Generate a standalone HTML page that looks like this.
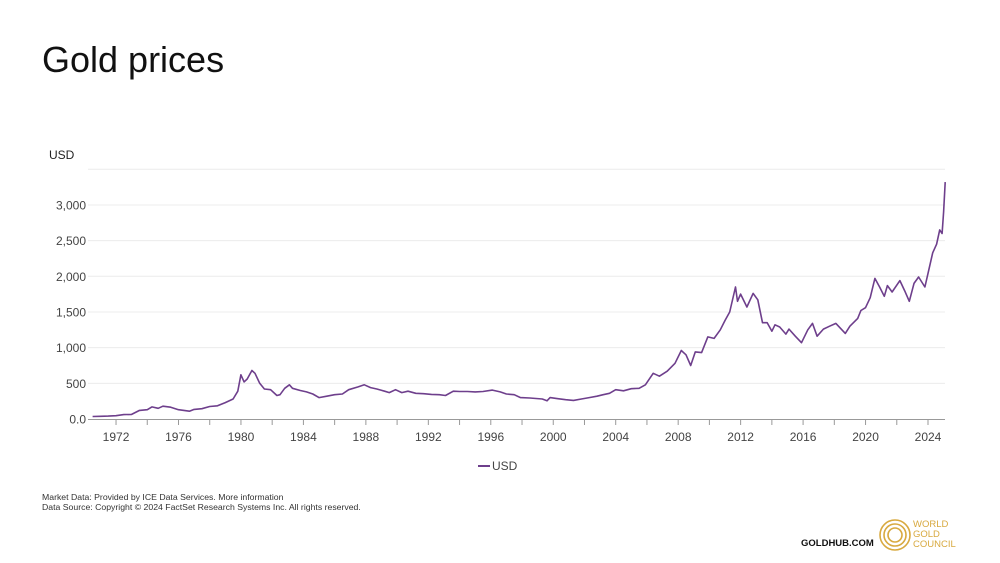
<!DOCTYPE html>
<html><head><meta charset="utf-8">
<style>
body{margin:0;background:#fff;font-family:"Liberation Sans",sans-serif;}
#wrap{position:relative;width:1000px;height:563px;overflow:hidden;}
</style></head>
<body><div id="wrap">
<div style="position:absolute;left:42px;top:39px;font-size:36px;color:#111;">Gold prices</div>
<svg id="chart" width="1000" height="563" style="position:absolute;left:0;top:0"></svg>
<div style="position:absolute;left:42px;top:492px;font-size:8.7px;color:#333;line-height:10px;">Market Data: Provided by ICE Data Services. More information<br>Data Source: Copyright © 2024 FactSet Research Systems Inc. All rights reserved.</div>
<div style="position:absolute;left:801px;top:538px;font-size:9.5px;font-weight:bold;color:#111;">GOLDHUB.COM</div>
<svg width="40" height="40" style="position:absolute;left:878px;top:518px">
<circle cx="17" cy="17" r="15" fill="none" stroke="#d8a93f" stroke-width="1.6"/>
<circle cx="17" cy="17" r="11" fill="none" stroke="#d8a93f" stroke-width="1.6"/>
<circle cx="17" cy="17" r="7" fill="none" stroke="#d8a93f" stroke-width="1.6"/></svg>
<div style="position:absolute;left:913px;top:520px;font-size:9.5px;line-height:10px;color:#d8a93f;">WORLD<br>GOLD<br>COUNCIL</div>
</div>
<script>
const years=[1970.5,1971,1971.5,1972,1972.5,1973,1973.5,1974,1974.3,1974.7,1975,1975.5,1976,1976.7,1977,1977.5,1978,1978.5,1979,1979.5,1979.8,1980.0,1980.2,1980.4,1980.7,1980.9,1981.2,1981.5,1981.9,1982.3,1982.5,1982.8,1983.1,1983.3,1983.8,1984.2,1984.6,1985.0,1985.5,1986,1986.5,1986.9,1987.5,1987.9,1988.3,1988.7,1989.2,1989.5,1989.9,1990.3,1990.7,1991.2,1991.7,1992.2,1992.7,1993.1,1993.6,1994,1994.5,1995,1995.5,1996.1,1996.6,1997,1997.5,1997.9,1998.5,1999.3,1999.6,1999.8,2000.3,2000.8,2001.3,2001.8,2002.3,2002.8,2003.2,2003.6,2004,2004.5,2005,2005.5,2005.9,2006.4,2006.8,2007.3,2007.8,2008.2,2008.5,2008.8,2009.1,2009.5,2009.9,2010.3,2010.7,2011.0,2011.3,2011.67,2011.8,2012.0,2012.4,2012.8,2013.1,2013.4,2013.7,2014.0,2014.2,2014.5,2014.9,2015.1,2015.5,2015.9,2016.3,2016.6,2016.9,2017.3,2017.7,2018.1,2018.7,2019.0,2019.5,2019.7,2020.0,2020.3,2020.6,2020.9,2021.2,2021.4,2021.7,2022.2,2022.5,2022.8,2023.1,2023.4,2023.8,2024.0,2024.3,2024.55,2024.75,2024.9,2025.0,2025.1];
const prices=[35,38,41,46,62,65,120,130,170,150,180,165,130,110,135,145,175,185,230,280,390,620,520,560,680,640,500,420,410,330,340,430,480,430,400,380,350,300,320,340,350,410,450,480,440,420,390,370,410,370,390,360,355,345,340,330,390,385,385,380,385,405,380,350,340,300,295,280,255,300,285,270,260,280,300,320,340,360,410,395,425,430,480,640,600,670,780,960,900,750,940,930,1150,1130,1250,1380,1500,1850,1650,1750,1570,1760,1670,1350,1350,1230,1320,1290,1190,1260,1160,1070,1250,1340,1160,1260,1300,1340,1200,1300,1410,1520,1560,1700,1970,1850,1720,1870,1780,1940,1800,1650,1900,1990,1850,2040,2330,2450,2650,2600,2900,3320];
const yTicks=[0,500,1000,1500,2000,2500,3000,3500];
const yTickLabels=["0.0","500","1,000","1,500","2,000","2,500","3,000",""];
const xTicks=[1972,1976,1980,1984,1988,1992,1996,2000,2004,2008,2012,2016,2020,2024];
const X0=88,X1=945;
const xs=y=>84.8+(y-1970)*15.615;
const ys=v=>419-v*0.07135;
const svg=document.getElementById('chart');const NS='http://www.w3.org/2000/svg';
function mk(t,a,txt){const e=document.createElementNS(NS,t);for(const k in a)e.setAttribute(k,a[k]);if(txt!=null)e.textContent=txt;svg.appendChild(e);return e;}
yTicks.forEach((v,i)=>{
 if(v>0){const g=mk('line',{x1:X0,x2:X1,y1:ys(v),y2:ys(v),stroke:'#ececec','stroke-width':1});
 
 }
 const t=mk('text',{x:86,y:ys(v)+4.5,'text-anchor':'end','font-size':12,fill:'#444'},yTickLabels[i]);
 
 
});
const ax=mk('line',{x1:X0,x2:X1,y1:419.5,y2:419.5,stroke:'#999','stroke-width':1});


for(let y=1972;y<=2024;y+=2){const m=mk('line',{x1:xs(y),x2:xs(y),y1:420,y2:425,stroke:'#999'});
 
 }
xTicks.forEach(y=>{const t=mk('text',{x:xs(y),y:441,'text-anchor':'middle','font-size':12,fill:'#444'},String(y));
 
 });
const yt=mk('text',{x:49,y:159,'font-size':12,fill:'#222'},'USD');


const d=years.map((y,i)=>(i?'L':'M')+xs(y).toFixed(1)+','+ys(prices[i]).toFixed(1)).join('');
const p=mk('path',{d:d,fill:'none',stroke:'#6e3f8c','stroke-width':1.6,'stroke-linejoin':'round'});


const ll=mk('line',{x1:478,x2:490,y1:466,y2:466,stroke:'#6e3f8c','stroke-width':2});


const lt=mk('text',{x:492,y:470,'font-size':12,fill:'#444'},'USD');


</script></body></html>
